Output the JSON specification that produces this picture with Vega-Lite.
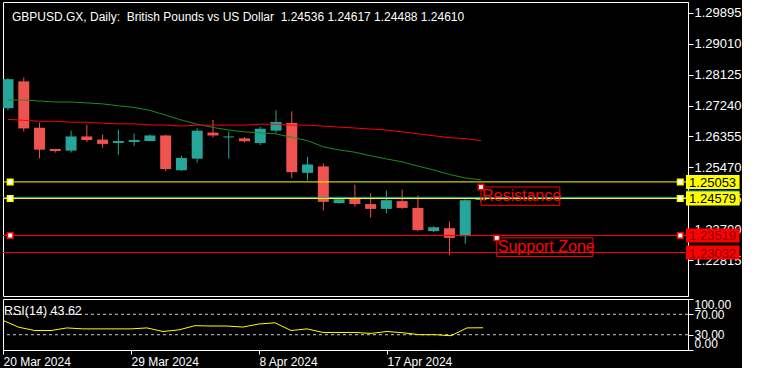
{
  "$schema": "https://vega.github.io/schema/vega-lite/v6.json",
  "background": "black",
  "padding": {"left": 2, "top": 1, "right": 0, "bottom": 0},
  "autosize": {"type": "pad"},
  "spacing": 0,
  "config": {
    "view": {"stroke": "white", "strokeWidth": 1},
    "font": "Liberation Sans",
    "axis": {"labelFont": "Liberation Sans", "labelColor": "white", "tickColor": "white", "domainColor": "white", "grid": false, "title": null, "labelOverlap": false, "tickCount": 40}
  },
  "datasets": {
    "bars": [
      {"i": 0, "date": "2024-03-20", "open": 1.27165, "high": 1.28020, "low": 1.27100, "close": 1.27995, "maFast": 1.27398, "maSlow": 1.26845, "rsi": 58.0},
      {"i": 1, "date": "2024-03-21", "open": 1.27931, "high": 1.28042, "low": 1.26502, "close": 1.26585, "maFast": 1.27398, "maSlow": 1.26817, "rsi": 44.5},
      {"i": 2, "date": "2024-03-22", "open": 1.26604, "high": 1.26750, "low": 1.25727, "close": 1.25976, "maFast": 1.27370, "maSlow": 1.26789, "rsi": 38.2},
      {"i": 3, "date": "2024-03-24", "open": 1.25996, "high": 1.26000, "low": 1.25893, "close": 1.25940, "maFast": 1.27342, "maSlow": 1.26789, "rsi": 38.2},
      {"i": 4, "date": "2024-03-25", "open": 1.25949, "high": 1.26521, "low": 1.25893, "close": 1.26355, "maFast": 1.27342, "maSlow": 1.26762, "rsi": 43.3},
      {"i": 5, "date": "2024-03-26", "open": 1.26355, "high": 1.26687, "low": 1.26197, "close": 1.26253, "maFast": 1.27315, "maSlow": 1.26762, "rsi": 41.4},
      {"i": 6, "date": "2024-03-27", "open": 1.26264, "high": 1.26410, "low": 1.26031, "close": 1.26142, "maFast": 1.27287, "maSlow": 1.26734, "rsi": 41.4},
      {"i": 7, "date": "2024-03-28", "open": 1.26170, "high": 1.26549, "low": 1.25830, "close": 1.26225, "maFast": 1.27232, "maSlow": 1.26715, "rsi": 41.4},
      {"i": 8, "date": "2024-03-29", "open": 1.26197, "high": 1.26438, "low": 1.26087, "close": 1.26253, "maFast": 1.27185, "maSlow": 1.26715, "rsi": 41.4},
      {"i": 9, "date": "2024-03-31", "open": 1.26225, "high": 1.26410, "low": 1.26217, "close": 1.26383, "maFast": 1.27102, "maSlow": 1.26687, "rsi": 43.3},
      {"i": 10, "date": "2024-04-01", "open": 1.26383, "high": 1.26402, "low": 1.25368, "close": 1.25423, "maFast": 1.26963, "maSlow": 1.26679, "rsi": 36.3},
      {"i": 11, "date": "2024-04-02", "open": 1.25387, "high": 1.25802, "low": 1.25368, "close": 1.25738, "maFast": 1.26825, "maSlow": 1.26651, "rsi": 39.5},
      {"i": 12, "date": "2024-04-03", "open": 1.25719, "high": 1.26585, "low": 1.25608, "close": 1.26521, "maFast": 1.26706, "maSlow": 1.26679, "rsi": 47.7},
      {"i": 13, "date": "2024-04-04", "open": 1.26466, "high": 1.26825, "low": 1.26327, "close": 1.26383, "maFast": 1.26612, "maSlow": 1.26679, "rsi": 47.0},
      {"i": 14, "date": "2024-04-05", "open": 1.26327, "high": 1.26493, "low": 1.25719, "close": 1.26355, "maFast": 1.26540, "maSlow": 1.26679, "rsi": 47.0},
      {"i": 15, "date": "2024-04-07", "open": 1.26300, "high": 1.26336, "low": 1.26189, "close": 1.26217, "maFast": 1.26485, "maSlow": 1.26679, "rsi": 45.0},
      {"i": 16, "date": "2024-04-08", "open": 1.26170, "high": 1.26632, "low": 1.26106, "close": 1.26576, "maFast": 1.26457, "maSlow": 1.26706, "rsi": 51.0},
      {"i": 17, "date": "2024-04-09", "open": 1.26521, "high": 1.27102, "low": 1.26466, "close": 1.26770, "maFast": 1.26430, "maSlow": 1.26706, "rsi": 53.4},
      {"i": 18, "date": "2024-04-10", "open": 1.26742, "high": 1.27074, "low": 1.25166, "close": 1.25332, "maFast": 1.26327, "maSlow": 1.26679, "rsi": 38.2},
      {"i": 19, "date": "2024-04-11", "open": 1.25312, "high": 1.25774, "low": 1.25091, "close": 1.25553, "maFast": 1.26236, "maSlow": 1.26679, "rsi": 41.4},
      {"i": 20, "date": "2024-04-12", "open": 1.25498, "high": 1.25581, "low": 1.24234, "close": 1.24483, "maFast": 1.26059, "maSlow": 1.26651, "rsi": 34.4},
      {"i": 21, "date": "2024-04-14", "open": 1.24447, "high": 1.24560, "low": 1.24428, "close": 1.24557, "maFast": 1.25968, "maSlow": 1.26623, "rsi": 34.4},
      {"i": 22, "date": "2024-04-15", "open": 1.24577, "high": 1.24972, "low": 1.24344, "close": 1.24419, "maFast": 1.25904, "maSlow": 1.26596, "rsi": 34.4},
      {"i": 23, "date": "2024-04-16", "open": 1.24419, "high": 1.24723, "low": 1.24032, "close": 1.24281, "maFast": 1.25802, "maSlow": 1.26568, "rsi": 32.5},
      {"i": 24, "date": "2024-04-17", "open": 1.24281, "high": 1.24806, "low": 1.24151, "close": 1.24530, "maFast": 1.25711, "maSlow": 1.26540, "rsi": 36.3},
      {"i": 25, "date": "2024-04-18", "open": 1.24502, "high": 1.24834, "low": 1.24281, "close": 1.24309, "maFast": 1.25628, "maSlow": 1.26485, "rsi": 33.8},
      {"i": 26, "date": "2024-04-19", "open": 1.24309, "high": 1.24668, "low": 1.23645, "close": 1.23672, "maFast": 1.25506, "maSlow": 1.26430, "rsi": 30.0},
      {"i": 27, "date": "2024-04-21", "open": 1.23645, "high": 1.23783, "low": 1.23618, "close": 1.23755, "maFast": 1.25395, "maSlow": 1.26374, "rsi": 30.0},
      {"i": 28, "date": "2024-04-22", "open": 1.23728, "high": 1.23921, "low": 1.22953, "close": 1.23451, "maFast": 1.25268, "maSlow": 1.26319, "rsi": 28.0},
      {"i": 29, "date": "2024-04-23", "open": 1.23498, "high": 1.24557, "low": 1.23285, "close": 1.24530, "maFast": 1.25166, "maSlow": 1.26291, "rsi": 43.3},
      {"i": 30, "date": "2024-04-24", "open": 1.24536, "high": 1.24617, "low": 1.24488, "close": 1.24610, "maFast": 1.25111, "maSlow": 1.26236, "rsi": 43.62}
    ],
    "levels": [
      {"price": 1.24610, "zone": "bid", "selected": false},
      {"price": 1.25053, "zone": "resistance", "selected": true},
      {"price": 1.24579, "zone": "resistance", "selected": true},
      {"price": 1.23519, "zone": "support", "selected": true},
      {"price": 1.23032, "zone": "support", "selected": false}
    ],
    "notes": [
      {"label": "Resistance", "x1": 30, "x2": 35, "ptop": 1.24909, "pbot": 1.24383},
      {"label": "Support Zone", "x1": 31, "x2": 37.1, "ptop": 1.23451, "pbot": 1.22917}
    ]
  },
  "vconcat": [
    {
      "width": 685,
      "height": 294,
      "layer": [
        {
          "data": {"name": "bars"},
          "mark": {"type": "rule", "clip": true, "strokeWidth": 1},
          "encoding": {
            "x": {"field": "i", "type": "quantitative", "scale": {"domain": [0, 42.8125], "nice": false, "zero": false}, "axis": null},
            "y": {"field": "low", "type": "quantitative", "scale": {"domain": [1.2193, 1.30061], "nice": false, "zero": false},
              "axis": {"orient": "right", "values": [1.29895, 1.2901, 1.28125, 1.2724, 1.26355, 1.2547, 1.24585, 1.237, 1.22815], "format": ".5f", "tickSize": 5, "labelPadding": 1, "labelFontSize": 13, "labelOverlap": false, "tickCount": 40}},
            "y2": {"field": "high"},
            "color": {"condition": {"test": "datum.close >= datum.open", "value": "#26a69a"}, "value": "#ef5350"}
          }
        },
        {
          "data": {"name": "bars"},
          "mark": {"type": "bar", "clip": true, "width": 11, "orient": "vertical"},
          "encoding": {
            "x": {"field": "i", "type": "quantitative"},
            "y": {"field": "open", "type": "quantitative"},
            "y2": {"field": "close"},
            "color": {"condition": {"test": "datum.close >= datum.open", "value": "#26a69a"}, "value": "#ef5350"}
          }
        },
        {
          "data": {"name": "bars"},
          "mark": {"type": "line", "clip": true, "color": "#228b22", "strokeWidth": 1},
          "encoding": {"x": {"field": "i", "type": "quantitative"}, "y": {"field": "maFast", "type": "quantitative"}}
        },
        {
          "data": {"name": "bars"},
          "mark": {"type": "line", "clip": true, "color": "#ff0000", "strokeWidth": 1},
          "encoding": {"x": {"field": "i", "type": "quantitative"}, "y": {"field": "maSlow", "type": "quantitative"}}
        },
        {
          "data": {"name": "levels"},
          "mark": {"type": "rule", "strokeWidth": 1},
          "encoding": {
            "y": {"field": "price", "type": "quantitative"},
            "color": {"field": "zone", "type": "nominal", "scale": {"domain": ["bid", "resistance", "support"], "range": ["#26a69a", "#ffff00", "#ff0000"]}, "legend": null}
          }
        },
        {
          "data": {"name": "levels"},
          "transform": [{"filter": "datum.selected"}],
          "mark": {"type": "point", "shape": "square", "size": 30, "filled": false, "fill": "white", "fillOpacity": 1, "strokeWidth": 1.5, "opacity": 1},
          "encoding": {
            "x": {"datum": 0.14},
            "y": {"field": "price", "type": "quantitative"},
            "stroke": {"field": "zone", "type": "nominal", "scale": {"domain": ["bid", "resistance", "support"], "range": ["#26a69a", "#ffff00", "#ff0000"]}, "legend": null}
          }
        },
        {
          "data": {"name": "levels"},
          "transform": [{"filter": "datum.selected"}],
          "mark": {"type": "point", "shape": "square", "size": 30, "filled": false, "fill": "white", "fillOpacity": 1, "strokeWidth": 1.5, "opacity": 1},
          "encoding": {
            "x": {"datum": 42.64},
            "y": {"field": "price", "type": "quantitative"},
            "stroke": {"field": "zone", "type": "nominal", "scale": {"domain": ["bid", "resistance", "support"], "range": ["#26a69a", "#ffff00", "#ff0000"]}, "legend": null}
          }
        },
        {
          "data": {"name": "levels"},
          "mark": {"type": "bar", "orient": "horizontal", "height": 14, "clip": false},
          "encoding": {
            "x": {"datum": 43.0},
            "x2": {"datum": 46.4},
            "y": {"field": "price", "type": "quantitative"},
            "color": {"field": "zone", "type": "nominal", "legend": null}
          }
        },
        {
          "data": {"name": "levels"},
          "transform": [{"filter": "datum.zone != 'bid'"}],
          "mark": {"type": "text", "align": "center", "baseline": "middle", "fontSize": 13, "font": "Liberation Sans", "clip": false, "dy": 1},
          "encoding": {
            "x": {"datum": 44.69},
            "y": {"field": "price", "type": "quantitative"},
            "text": {"field": "price", "type": "quantitative", "format": ".5f"},
            "color": {"condition": {"test": "datum.zone == 'support'", "value": "#7a0000"}, "value": "#000000"}
          }
        },
        {
          "data": {"name": "notes"},
          "mark": {"type": "rect", "filled": false, "stroke": "#ff0000", "strokeWidth": 1},
          "encoding": {
            "x": {"field": "x1", "type": "quantitative"},
            "x2": {"field": "x2"},
            "y": {"field": "ptop", "type": "quantitative"},
            "y2": {"field": "pbot"}
          }
        },
        {
          "data": {"name": "notes"},
          "mark": {"type": "text", "align": "left", "baseline": "top", "fontSize": 16, "font": "Liberation Sans", "color": "#ff0000", "dx": 1, "dy": 1},
          "encoding": {
            "x": {"field": "x1", "type": "quantitative"},
            "y": {"field": "ptop", "type": "quantitative"},
            "text": {"field": "label"}
          }
        },
        {
          "data": {"name": "notes"},
          "mark": {"type": "point", "shape": "square", "size": 30, "filled": false, "fill": "white", "fillOpacity": 1, "stroke": "#ff0000", "strokeWidth": 1.5, "opacity": 1},
          "encoding": {
            "x": {"field": "x1", "type": "quantitative"},
            "y": {"field": "ptop", "type": "quantitative"}
          }
        },
        {
          "data": {"values": [{"label": "GBPUSD.GX, Daily:\u00a0 British Pounds vs US Dollar\u00a0 1.24536 1.24617 1.24488 1.24610"}]},
          "mark": {"type": "text", "align": "left", "baseline": "alphabetic", "font": "Liberation Sans", "fontSize": 12, "color": "white"},
          "encoding": {"x": {"datum": 0.25}, "y": {"datum": 1.29674}, "text": {"field": "label"}}
        }
      ]
    },
    {
      "width": 685,
      "height": 51,
      "layer": [
        {
          "data": {"values": [{"lvl": 70}, {"lvl": 30}]},
          "mark": {"type": "rule", "color": "#c8c8c8", "strokeDash": [3, 3], "strokeWidth": 1},
          "encoding": {
            "y": {"field": "lvl", "type": "quantitative", "scale": {"domain": [0, 100], "nice": false},
              "axis": {"orient": "right", "values": [100, 70, 30, 0], "format": ".2f", "tickSize": 5, "labelPadding": 1, "labelFontSize": 12, "labelOverlap": false, "labelFlush": true, "tickCount": 40}}
          }
        },
        {
          "data": {"name": "bars"},
          "mark": {"type": "line", "color": "#ffff00", "strokeWidth": 1, "clip": true},
          "encoding": {
            "x": {"field": "i", "type": "quantitative", "scale": {"domain": [0, 42.8125], "nice": false, "zero": false},
              "axis": {"orient": "bottom", "values": [0, 8, 16, 24], "labelExpr": "datum.value == 0 ? '20 Mar 2024' : datum.value == 8 ? '29 Mar 2024' : datum.value == 16 ? '8 Apr 2024' : '17 Apr 2024'", "labelAlign": "left", "tickSize": 4, "labelPadding": 2, "labelFontSize": 12, "labelOverlap": false, "labelFlush": false, "tickCount": 40}},
            "y": {"field": "rsi", "type": "quantitative"}
          }
        },
        {
          "data": {"values": [{"label": "RSI(14) 43.62"}]},
          "mark": {"type": "text", "align": "left", "baseline": "alphabetic", "font": "Liberation Sans", "fontSize": 12.5, "color": "white"},
          "encoding": {"x": {"datum": 0.0625}, "y": {"datum": 68.6}, "text": {"field": "label"}}
        }
      ]
    }
  ]
}
